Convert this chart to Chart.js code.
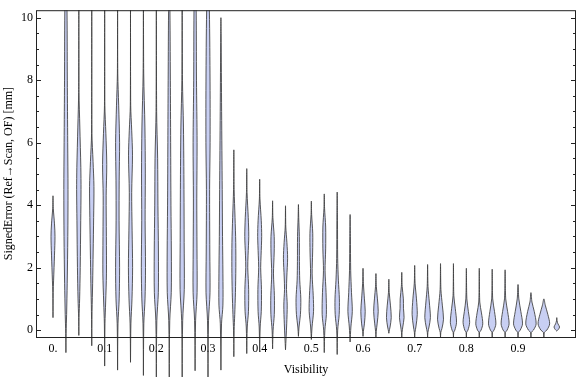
<!DOCTYPE html>
<html>
<head>
<meta charset="utf-8">
<script src="https://cdn.jsdelivr.net/npm/chart.js@4/dist/chart.umd.min.js"></script>
<style>
  html, body { margin: 0; padding: 0; background: #fff; }
</style>
</head>
<body>
<canvas id="violinChart" width="576" height="377"></canvas>
<script>
// violin centres (Visibility)
const positions = [0, 0.025, 0.05, 0.075, 0.1, 0.125, 0.15, 0.175, 0.2, 0.225,
  0.25, 0.275, 0.3, 0.325, 0.35, 0.375, 0.4, 0.425, 0.45, 0.475,
  0.5, 0.525, 0.55, 0.575, 0.6, 0.625, 0.65, 0.675, 0.7, 0.725,
  0.75, 0.775, 0.8, 0.825, 0.85, 0.875, 0.9, 0.925, 0.95, 0.975];

// upper / lower end of each violin's tail [mm]
const tops = [4.3, 11, 11, 11, 11, 11, 11, 11, 11, 11,
  11, 11, 11, 10.0, 5.77, 5.17, 4.83, 4.14, 3.98, 4.02,
  4.13, 4.36, 4.42, 3.7, 1.98, 1.81, 1.63, 1.85, 2.07, 2.1,
  2.13, 2.13, 1.98, 1.98, 1.95, 1.93, 1.46, 1.2, 1.0, 0.4];
const bottoms = [0.4, -0.72, -0.17, -0.5, -1.15, -1.28, -1.03, -1.45, -1.5, -1.5,
  -1.5, -1.3, -1.5, -1.28, -0.85, -0.75, -0.7, -0.6, -0.63, -0.2,
  -0.3, -0.72, -0.78, -0.38, -0.2, -0.25, -0.1, -0.25, -0.25, -0.25,
  -0.25, -0.25, -0.25, -0.25, -0.25, -0.25, -0.25, -0.25, -0.25, -0.03];

// density profile of each violin: [error, density], from top to bottom
const profiles = [
  [[3.9, 0.3], [3.4, 1.5], [3.0, 2.0], [2.4, 1.5], [1.6, 0.6], [1.2, 0.2]],
  [[10.5, 1.0], [8, 1.4], [6, 1.8], [4.5, 2.1], [3, 1.9], [1.5, 1.3], [0.5, 0.7], [-0.1, 0.2]],
  [[7.6, 0.2], [6.5, 1.0], [5.2, 2.0], [4.5, 2.2], [3.5, 1.9], [2, 1.4], [1, 0.8], [0.4, 0.2]],
  [[6.3, 0.2], [5.4, 1.3], [4.6, 2.2], [3.6, 1.9], [2.5, 1.4], [1.5, 0.9], [0.6, 0.3]],
  [[7.2, 0.2], [6.3, 1.2], [5.3, 2.1], [4.3, 1.5], [3, 1.7], [1.8, 1.8], [0.9, 1.0], [0.2, 0.3]],
  [[8.2, 0.2], [7.2, 1.1], [6.0, 2.0], [4.8, 1.6], [3.5, 1.5], [2, 2.0], [1, 1.6], [0.2, 0.4]],
  [[7.2, 0.2], [6.4, 1.2], [5.6, 2.0], [4.4, 1.2], [3.2, 1.6], [2.0, 2.1], [1, 1.5], [0.2, 0.4]],
  [[8.2, 0.3], [6.5, 1.5], [5, 1.9], [3.5, 1.7], [2, 2.1], [1, 1.6], [0.2, 0.4]],
  [[7, 0.3], [5.5, 1.3], [4, 1.6], [2.5, 2.1], [1.2, 2.0], [0.3, 0.5]],
  [[10.5, 0.6], [8, 1.1], [6, 1.4], [4, 1.7], [2.5, 2.1], [1.2, 2.0], [0.3, 0.5]],
  [[8.0, 0.3], [6.5, 1.3], [4.5, 1.8], [2.8, 2.0], [1.3, 2.1], [0.3, 0.5]],
  [[10.5, 1.0], [8, 1.4], [6, 2.0], [4.2, 1.7], [2.6, 1.9], [1.2, 2.0], [0.3, 0.5]],
  [[10.5, 1.2], [8.2, 2.0], [6, 2.1], [4.5, 1.6], [2.5, 1.8], [1.2, 2.0], [0.3, 0.5]],
  [[9.5, 0.2], [7, 0.7], [4.5, 1.3], [3, 1.6], [1.8, 2.0], [0.8, 2.0], [0.2, 0.6]],
  [[4.5, 0.3], [3.6, 1.2], [2.8, 1.9], [2.0, 2.0], [1.2, 1.6], [0.5, 0.9], [0, 0.3]],
  [[4.4, 0.3], [3.6, 1.5], [3.0, 2.0], [2.4, 1.3], [2.0, 1.0], [1.3, 1.9], [0.6, 1.7], [0.1, 0.5]],
  [[4.2, 0.3], [3.5, 1.6], [3.0, 2.0], [2.4, 1.4], [2.0, 1.0], [1.3, 1.8], [0.6, 1.6], [0.1, 0.5]],
  [[3.6, 0.3], [3.0, 1.6], [2.5, 1.6], [1.8, 0.9], [1.1, 1.8], [0.5, 1.7], [0.0, 0.5]],
  [[3.3, 0.3], [2.8, 1.4], [2.3, 2.1], [1.7, 1.3], [1.3, 1.0], [0.8, 1.7], [0.2, 1.2]],
  [[3.6, 0.3], [3.0, 0.9], [2.2, 1.0], [1.6, 1.3], [1.0, 2.4], [0.5, 2.0], [0.1, 0.6]],
  [[3.7, 0.3], [3.1, 1.4], [2.5, 1.3], [1.8, 0.8], [1.1, 1.9], [0.6, 2.2], [0.1, 0.7]],
  [[3.9, 0.3], [3.3, 1.4], [2.6, 1.4], [1.9, 0.8], [1.2, 1.8], [0.5, 2.1], [0.0, 0.6]],
  [[3.5, 0.3], [2.3, 0.5], [1.6, 1.2], [1.0, 2.2], [0.5, 2.0], [0.0, 0.5]],
  [[3.0, 0.3], [1.9, 0.6], [1.2, 1.4], [0.6, 2.2], [0.1, 0.8]],
  [[1.5, 0.4], [1.0, 1.4], [0.6, 2.2], [0.2, 1.4], [-0.05, 0.3]],
  [[1.4, 0.4], [1.0, 1.5], [0.6, 2.3], [0.2, 1.2], [-0.05, 0.3]],
  [[1.2, 0.4], [0.8, 1.6], [0.4, 2.4], [0.1, 1.2], [-0.05, 0.2]],
  [[1.4, 0.4], [1.0, 1.6], [0.7, 1.7], [0.4, 2.3], [0.1, 1.0], [-0.07, 0.3]],
  [[1.5, 0.4], [1.0, 1.8], [0.5, 2.6], [0.1, 1.2], [-0.07, 0.3]],
  [[1.4, 0.4], [0.9, 1.7], [0.4, 2.8], [0.1, 1.4], [-0.07, 0.3]],
  [[1.3, 0.4], [0.8, 1.8], [0.35, 3.0], [0.05, 1.4], [-0.07, 0.3]],
  [[1.1, 0.4], [0.7, 1.8], [0.25, 3.1], [0.0, 1.4], [-0.07, 0.3]],
  [[1.0, 0.5], [0.6, 2.0], [0.25, 3.3], [0.0, 1.6], [-0.07, 0.3]],
  [[0.9, 0.5], [0.55, 2.2], [0.2, 3.5], [0.0, 1.8], [-0.07, 0.3]],
  [[1.0, 0.5], [0.6, 2.3], [0.2, 3.7], [0.0, 1.8], [-0.07, 0.3]],
  [[1.0, 0.6], [0.6, 2.5], [0.2, 4.0], [0.0, 2.0], [-0.07, 0.3]],
  [[1.0, 0.8], [0.6, 2.8], [0.2, 4.5], [0.0, 2.2], [-0.07, 0.4]],
  [[0.9, 1.0], [0.6, 3.3], [0.2, 5.2], [0.0, 2.5], [-0.07, 0.4]],
  [[0.8, 1.4], [0.5, 4.0], [0.2, 5.8], [0.0, 3.0], [-0.07, 0.5]],
  [[0.3, 0.3], [0.2, 1.2], [0.1, 2.8], [0.02, 1.5]]
];

const xTickValues = [0, 0.1, 0.2, 0.3, 0.4, 0.5, 0.6, 0.7, 0.8, 0.9];
const xTickLabels = ["0.", "0.1", "0.2", "0.3", "0.4", "0.5", "0.6", "0.7", "0.8", "0.9"];
const yTickValues = [0, 2, 4, 6, 8, 10];

const densityToX = 0.00193; // half width in x units per density unit
const font = { family: "'Liberation Serif', 'Times New Roman', serif", size: 12 };

const datasets = positions.map((x, i) => {
  const knots = profiles[i];
  const right = knots.slice().reverse().map(([y, d]) => ({ x: x + d * densityToX, y }));
  const left = knots.map(([y, d]) => ({ x: x - d * densityToX, y }));
  return {
    data: [{ x, y: bottoms[i] }, ...right, { x, y: tops[i] }, ...left, { x, y: bottoms[i] }],
    borderColor: "rgba(60, 60, 60, 0.85)",
    backgroundColor: "rgb(200, 207, 243)",
    borderWidth: 1,
    pointRadius: 0,
    tension: 0.3,
    fill: "shape",
    clip: { left: false, top: 0, right: false, bottom: false },
  };
});

// frame with inward ticks, like a Mathematica frame
const framePlugin = {
  id: "frame",
  afterDraw(chart) {
    const { ctx, chartArea: a, scales } = chart;
    ctx.save();
    ctx.strokeStyle = "#222";
    ctx.lineWidth = 1;
    ctx.strokeRect(a.left + 0.5, a.top + 0.5, a.right - a.left - 1, a.bottom - a.top);
    ctx.beginPath();
    for (let v = 0; v <= 10; v += 0.5) {
      const py = Math.round(scales.y.getPixelForValue(v)) + 0.5;
      const len = v % 2 === 0 ? 5 : 3;
      ctx.moveTo(a.left, py);
      ctx.lineTo(a.left + len, py);
      ctx.moveTo(a.right, py);
      ctx.lineTo(a.right - len, py);
    }
    ctx.stroke();
    ctx.restore();
  },
};

new Chart(document.getElementById("violinChart"), {
  type: "line",
  data: { datasets },
  plugins: [framePlugin],
  options: {
    responsive: false,
    animation: false,
    devicePixelRatio: 1,
    layout: { padding: { top: 4, right: 0, left: 0, bottom: 0 } },
    plugins: { legend: { display: false }, tooltip: { enabled: false } },
    scales: {
      x: {
        type: "linear",
        min: -0.0329,
        max: 1.0122,
        grid: { display: false, drawTicks: false },
        border: { display: false },
        afterBuildTicks: (s) => { s.ticks = xTickValues.map((v) => ({ value: v })); },
        afterFit: (s) => { s.height = 40; },
        ticks: {
          font, color: "#000", padding: 5, maxRotation: 0, autoSkip: false,
          callback: (v, i) => xTickLabels[i],
        },
        title: { display: true, text: "Visibility", font, color: "#000", padding: { top: 0, bottom: 0 } },
      },
      y: {
        min: -0.22,
        max: 10.24,
        grid: { display: false, drawTicks: false },
        border: { display: false },
        afterBuildTicks: (s) => { s.ticks = yTickValues.map((v) => ({ value: v })); },
        afterFit: (s) => { s.width = 36; },
        ticks: { font, color: "#000", padding: 3, callback: (v) => String(v) },
        title: {
          display: true, text: "SignedError (Ref\u2192Scan, OF) [mm]", font, color: "#000",
          padding: { top: 2, bottom: 0 },
        },
      },
    },
  },
});
</script>
</body>
</html>
